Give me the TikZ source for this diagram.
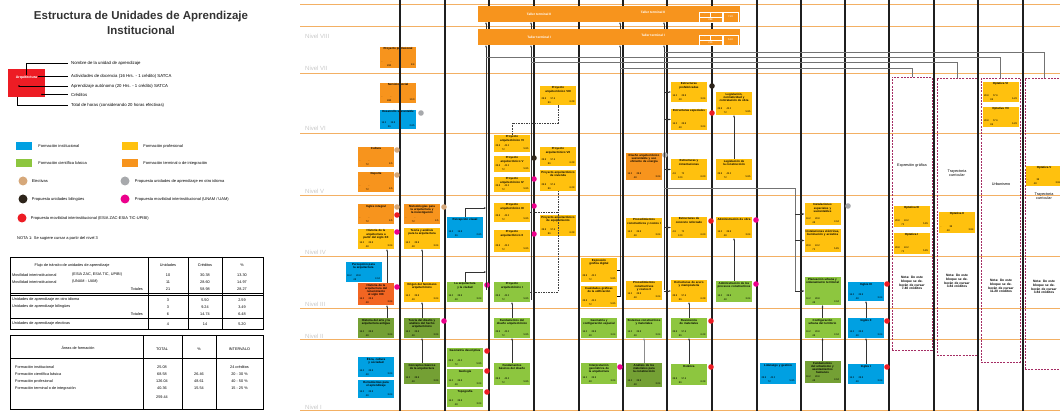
\documentclass[tikz,border=0pt]{standalone}
\usepackage{fontspec}
\setmainfont{Liberation Sans}
\usetikzlibrary{arrows.meta,positioning}

\definecolor{cInst}{RGB}{0,160,226}
\definecolor{cProf}{RGB}{255,193,14}
\definecolor{cCien}{RGB}{141,198,63}
\definecolor{cCienO}{RGB}{116,160,52}
\definecolor{cTerm}{RGB}{247,148,29}
\definecolor{cTermR}{RGB}{242,101,34}
\definecolor{cElec}{RGB}{214,168,122}
\definecolor{cIdio}{RGB}{167,169,172}
\definecolor{cBil}{RGB}{45,36,26}
\definecolor{cUnam}{RGB}{236,0,140}
\definecolor{cEsia}{RGB}{237,28,36}
\definecolor{cNivel}{RGB}{243,176,100}
\definecolor{cNtxt}{RGB}{200,200,200}
\definecolor{cBloque}{RGB}{165,45,100}

\newcommand\unidad[7]{%
  \node[ua,fill=#2,minimum height={(#5-#4)*1pt}] (#1) at (#3,{(#4+#5)/2}) {};
  \node[uatit] (#1t) at ([yshift=-0.9pt]#1.north) {#6};
  \uanums{#1}#7\relax}
\def\uanums#1#2/#3/#4/#5\relax{%
  \node[uanum,anchor=base west] (#1a) at ([shift={(1.5pt,5.4pt)}]#1.south west) {#2};
  \node[uanum,anchor=base west] (#1b) at ([shift={(10.5pt,5.4pt)}]#1.south west) {#3};
  \node[uanum,anchor=base] (#1h) at ([shift={(9.5pt,1.4pt)}]#1.south west) {#4};
  \node[uanum,anchor=base east] (#1c) at ([shift={(-1.5pt,2.4pt)}]#1.south east) {#5};}
\newcommand\marca[3]{\fill[#1] (#2,#3) circle[radius=2.8pt];}

\begin{document}
\begin{tikzpicture}[x=1pt,y=-1pt,>={Stealth[length=2.2pt,width=1.8pt]},
    ua/.style={rectangle,minimum width=36pt,inner sep=0pt},
    uatit/.style={anchor=north,align=center,text width=34pt,inner sep=0pt,
      execute at begin node={\hyphenpenalty=10000},
      font=\fontsize{2.9}{3.2}\selectfont\bfseries},
    uanum/.style={inner sep=0pt,font=\fontsize{2.5}{2.7}\selectfont},
    nivel/.style={draw=cNivel,line width=0.9pt},
    niv/.style={anchor=west,inner sep=0pt,text=cNtxt,font=\fontsize{6}{6.5}\selectfont},
    columna/.style={draw=black!88,line width=1.3pt},
    liga/.style={->,draw=black!80,line width=0.45pt},
    gris/.style={draw=black!55,line width=0.7pt},
    punteada/.style={draw=black!75,line width=0.6pt,dash pattern=on 1.6pt off 1pt},
    taller/.style={rectangle,fill=cTerm,minimum height=16pt,inner sep=0pt,text=white,
      font=\fontsize{3.2}{3.6}\selectfont\bfseries},
    bloque/.style={rectangle,draw=cBloque,dash pattern=on 2pt off 1.2pt,line width=0.7pt},
    btxt/.style={align=center,text width=34pt,inner sep=0pt,font=\fontsize{3.8}{4.4}\selectfont},
    bnota/.style={align=center,text width=32pt,inner sep=0pt,font=\fontsize{3.3}{3.9}\selectfont\bfseries},
    leyenda/.style={anchor=west,inner sep=0pt,font=\fontsize{4}{4.5}\selectfont},
    tabla/.style={inner sep=0pt,font=\fontsize{3.8}{4.2}\selectfont},
    anot/.style={anchor=west,inner sep=0pt,font=\fontsize{4.3}{5}\selectfont}]
\useasboundingbox (0,0) rectangle (1060,411);

\node[align=center,text=black!80,font=\fontsize{11.5}{14.5}\selectfont\bfseries] (titulo) at (141,23) {Estructura de Unidades de Aprendizaje\\Institucional};

\node[fill=cEsia,minimum width=37pt,minimum height=28pt,inner sep=0pt] (arq) at (26.5,83) {};
\node[inner sep=0pt,text=white,font=\fontsize{3.6}{4}\selectfont\bfseries] (arqt) at (26.5,77.5) {Arquitectura};
\node[anot] (an1) at (71,63) {Nombre de la unidad de aprendizaje};
\node[anot] (an2) at (71,76) {Actividades de docencia (16 Hrs. - 1 crédito) SATCA};
\node[anot] (an3) at (71,86) {Aprendizaje autónomo (20 Hrs. - 1 crédito) SATCA};
\node[anot] (an4) at (71,94.5) {Créditos};
\node[anot] (an5) at (71,105) {Total de horas (considerando 20 horas efectivas)};
\coordinate (p1) at (26,75);
\coordinate (p2) at (38,76);
\coordinate (p3) at (19,86);
\coordinate (p4) at (42,94.5);
\coordinate (p5) at (17,97);
\draw[line width=0.5pt] (p1) |- ([xshift=-3pt]an1.west);
\draw[line width=0.5pt] (p2) -- ([xshift=-3pt]an2.west);
\draw[line width=0.5pt] (p3) -- ([xshift=-3pt]an3.west);
\draw[line width=0.5pt] (p4) -- ([xshift=-3pt]an4.west);
\draw[line width=0.5pt] (p5) |- ([xshift=-3pt]an5.west);
\foreach \p in {p3,p4} \fill (\p) circle[radius=0.9pt];

\node[fill=cInst,minimum width=16pt,minimum height=8pt,inner sep=0pt] (lgInst) at (24,146) {};
\node[leyenda,right=6pt of lgInst] (lgInstT) {Formación institucional};
\node[fill=cProf,minimum width=16pt,minimum height=8pt,inner sep=0pt] (lgProf) at (130,146) {};
\node[leyenda,right=5pt of lgProf] (lgProfT) {Formación profesional};
\node[fill=cCien,minimum width=16pt,minimum height=8pt,inner sep=0pt] (lgCien) at (24,163) {};
\node[leyenda,right=6pt of lgCien] (lgCienT) {Formación científica básica};
\node[fill=cTerm,minimum width=16pt,minimum height=8pt,inner sep=0pt] (lgTerm) at (130,163) {};
\node[leyenda,right=5pt of lgTerm] (lgTermT) {Formación terminal o de integración};
\node[circle,fill=cElec,minimum size=9pt,inner sep=0pt] (lgElec) at (23,181) {};
\node[leyenda,right=4pt of lgElec] (lgElecT) {Electivas};
\node[circle,fill=cIdio,minimum size=9pt,inner sep=0pt] (lgIdio) at (125,181) {};
\node[leyenda,right=5pt of lgIdio] (lgIdioT) {Propuesta unidades de aprendizaje en otro idioma};
\node[circle,fill=cBil,minimum size=9pt,inner sep=0pt] (lgBil) at (23,199) {};
\node[leyenda,right=4pt of lgBil] (lgBilT) {Propuesta unidades bilingües};
\node[circle,fill=cUnam,minimum size=9pt,inner sep=0pt] (lgUnam) at (125,199) {};
\node[leyenda,right=5pt of lgUnam] (lgUnamT) {Propuesta movilidad interinstitucional (UNAM / UAM)};
\node[circle,fill=cEsia,minimum size=9pt,inner sep=0pt] (lgEsia) at (22,218) {};
\node[leyenda,right=4pt of lgEsia] (lgEsiaT) {Propuesta movilidad interinstitucional (ESIA ZAC-ESIA TIC-UPIBI)};
\node[leyenda] (nota) at (17,238) {NOTA 1: Se sugiere cursar a partir del nivel 3};

\draw[line width=0.6pt] (10,257) rectangle (263,329);
\draw[line width=0.4pt] (148,257) -- (148,329) (188,257) -- (188,329) (222,257) -- (222,329);
\draw[line width=0.4pt] (10,293) -- (263,293) (10,295.5) -- (263,295.5) (10,318) -- (263,318);
\node[tabla] (t1h) at (72,265) {Flujo de tránsito de unidades de aprendizaje};
\foreach \c/\x/\t in {u/168/Unidades,c/205/Créditos,p/242/{\%}} \node[tabla] (t1\c) at (\x,265) {\t};
\node[tabla,anchor=west] (t1r1) at (12,275) {Movilidad interinstitucional};
\node[tabla,anchor=west] (t1r1b) at (72,275) {(ESIA ZAC, ESIA TIC, UPIBI)};
\node[tabla,anchor=west] (t1r2) at (12,282) {Movilidad interinstitucional};
\node[tabla,anchor=west] (t1r2b) at (72,282) {(UNAM - UAM)};
\node[tabla,anchor=east] (t1r3) at (143,289) {Totales};
\node[tabla,anchor=west] (t1r4) at (12,300) {Unidades de aprendizaje en otro idioma};
\node[tabla,anchor=west] (t1r5) at (12,307) {Unidades de aprendizaje bilingües};
\node[tabla,anchor=east] (t1r6) at (143,314) {Totales};
\node[tabla,anchor=west] (t1r7) at (12,324) {Unidades de aprendizaje electivas};
\foreach \r/\y/\u/\k/\p in {1/275/10/30.38/13.30,2/282/11/28.60/14.97,3/289/21/58.98/28.27,
    4/300/3/5.50/2.59,5/307/3/9.24/3.49,6/314/6/14.74/6.48,7/324/4/14/5.20} {
  \node[tabla] (t1u\r) at (168,\y) {\u};
  \node[tabla] (t1c\r) at (205,\y) {\k};
  \node[tabla] (t1p\r) at (242,\y) {\p};
}

\draw[line width=0.6pt] (10,335) rectangle (263,409);
\draw[line width=0.4pt] (143,335) -- (143,409) (182,335) -- (182,409) (216,335) -- (216,409) (10,358) -- (263,358);
\node[tabla] (t2h) at (78,348) {Áreas de formación};
\node[tabla] (t2t) at (162,349) {TOTAL};
\node[tabla] (t2p) at (199,349) {\%};
\node[tabla] (t2i) at (239.5,349) {INTERVALO};
\foreach \r/\y/\a/\t/\p/\i in {1/367/Formación institucional/25.08//24 créditos,
    2/374/Formación científica básica/68.58/26.46/20 - 30 \%,
    3/381/Formación profesional/126.04/48.61/40 - 50 \%,
    4/388/Formación terminal o de integración/40.36/15.54/15 - 25 \%} {
  \node[tabla,anchor=west] (t2a\r) at (15,\y) {\a};
  \node[tabla] (t2t\r) at (162,\y) {\t};
  \node[tabla] (t2p\r) at (199,\y) {\p};
  \node[tabla] (t2i\r) at (239.5,\y) {\i};
}
\node[tabla] (t2tot) at (162,397) {259.44};

\foreach \y in {4,26,73,133,195,256,308,339,410} \draw[nivel] (300,\y) -- (1060,\y);
\foreach \y/\n in {36/VIII,68/VII,128/VI,191/V,252/IV,304/III,336/II,407/I}
  \node[niv] (n\n) at (305,\y) {Nivel \n};

\unidad{pprof}{cTerm}{398}{47}{68}{Proyecto profesional}{-/-/260/8.4}
\unidad{ssocial}{cTerm}{398}{83}{103}{Servicio social}{-/-/480/10.0}
\unidad{dsust1}{cInst}{398}{110}{129}{Desarrollo sustentable}{16.2/19.8/36/2.65}
\unidad{cultura}{cTerm}{376}{147}{167}{Cultura}{-/-/72/4.5}
\unidad{deporte}{cTerm}{376}{172}{192}{Deporte}{-/-/72/4.5}
\unidad{ingint}{cTerm}{376}{204}{224}{Inglés integral}{-/-/72/4.5}
\unidad{histxx}{cProf}{376}{229}{249}{Historia de la arquitectura a partir del siglo XX}{16.2/28.8/48/3.04}
\unidad{percarq}{cInst}{363.5}{262}{282}{Percepción para la arquitectura}{16.2/28.8/48/3.04}
\unidad{histren}{cTermR}{376}{283}{305}{Historia de la arquitectura del renacimiento al siglo XIX}{16.2/28.8/48/3.04}
\unidad{histant}{cCienO}{376}{318}{338}{Historia del arte y la arquitectura antigua}{16.2/28.8/48/3.04}
\unidad{etica}{cInst}{376}{357}{377}{Ética, cultura y sociedad}{16.2/28.8/48/3.04}
\unidad{herram}{cInst}{376}{380}{398}{Herramientas para el aprendizaje}{16.2/28.8/48/3.04}

\unidad{metod}{cTerm}{422}{204}{224}{Metodologías para la arquitectura y la investigación}{-/-/72/4.5}
\unidad{teoana}{cProf}{422}{228}{249}{Teoría y análisis para la arquitectura}{16.2/28.8/48/3.04}
\unidad{origen}{cProf}{422}{282}{302}{Origen del fenómeno arquitectónico}{16.2/28.8/48/3.04}
\unidad{teodis}{cCienO}{422}{318}{338}{Teoría del diseño y análisis del hecho arquitectónico}{16.2/28.8/48/3.04}
\unidad{concep}{cCienO}{422}{363}{384}{Conceptos básicos de la arquitectura}{16.2/28.8/48/3.04}

\unidad{percvis}{cInst}{465}{217}{238}{Percepción visual}{16.2/19.8/36/2.65}
\unidad{arqciu}{cCien}{465}{282}{302}{La arquitectura y la ciudad}{16.2/28.8/48/3.04}
\unidad{geodes}{cCien}{465}{348}{367}{Geometría descriptiva}{28.8/43.2/72/5.85}
\unidad{geolog}{cCien}{465}{369}{387}{Geología}{16.2/28.8/48/3.04}
\unidad{topog}{cCien}{465}{389}{407}{Topografía}{16.2/28.8/48/3.04}

\unidad{pa6}{cProf}{512}{135}{152}{Proyecto arquitectónico VI}{28.8/43.2/72/5.85}
\unidad{pa5}{cProf}{512}{156}{172}{Proyecto arquitectónico V}{28.8/43.2/72/5.85}
\unidad{pa4}{cProf}{512}{177}{192}{Proyecto arquitectónico IV}{28.8/43.2/72/5.85}
\unidad{pa3}{cProf}{512}{203}{222}{Proyecto arquitectónico III}{28.8/43.2/72/5.85}
\unidad{pa2}{cProf}{512}{230}{252}{Proyecto arquitectónico II}{28.8/43.2/72/5.85}
\unidad{pa1}{cCien}{512}{282}{302}{Proyecto arquitectónico I}{28.8/43.2/72/5.85}
\unidad{fundis}{cCien}{512}{318}{338}{Fundamentos del diseño arquitectónico}{28.8/43.2/72/5.85}
\unidad{funbas}{cCien}{512}{363}{385}{Fundamentos básicos del diseño}{28.8/43.2/72/5.85}

\unidad{pa8}{cProf}{558}{86}{105}{Proyecto arquitectónico VIII}{28.8/57.6/86/6.28}
\unidad{pa7}{cProf}{558}{147}{166}{Proyecto arquitectónico VII}{28.8/57.6/86/6.28}
\unidad{pavi}{cProf}{558}{170}{191}{Proyecto arquitectónico de vivienda}{28.8/57.6/86/6.28}
\unidad{paeq}{cProf}{558}{215}{236}{Proyecto arquitectónico de equipamiento}{28.8/57.6/86/6.28}

\unidad{expgraf}{cProf}{599}{258}{282}{Expresión gráfica digital}{28.8/43.2/72/5.85}
\unidad{cualid}{cProf}{599}{286}{307}{Cualidades gráficas de la edificación}{28.8/43.2/72/5.85}
\unidad{geoconf}{cCien}{599}{318}{338}{Geometría y configuración espacial}{16.2/28.8/48/3.04}
\unidad{interp}{cCien}{599}{363}{384}{Interpretación geométrica de la arquitectura}{16.2/28.8/48/3.04}

\unidad{dsust}{cTerm}{644}{153}{180}{Diseño arquitectónico sustentable y uso eficiente de energía}{16.2/28.8/48/3.04}
\unidad{procos1}{cProf}{644}{218}{238}{Procedimientos constructivos y costos I}{16.2/28.8/48/3.04}
\unidad{procos2}{cProf}{644}{281}{300}{Procedimientos constructivos y costos II}{16.2/28.8/48/3.04}
\unidad{sistcon}{cCien}{644}{318}{338}{Sistemas constructivos y materiales}{16.2/28.8/48/3.04}
\unidad{analmat}{cCienO}{644}{363}{387}{Análisis de los materiales para la construcción}{16.2/28.8/48/3.04}

\unidad{est1}{cProf}{689}{82}{102}{Estructuras prefabricadas}{16.2/28.8/48/3.04}
\unidad{est2}{cProf}{689}{109}{130}{Estructuras especiales}{16.2/28.8/48/3.04}
\unidad{est3}{cProf}{689}{159}{180}{Estructuras y cimentaciones}{4.8/72/120/6.09}
\unidad{est4}{cProf}{689}{217}{238}{Estructuras de concreto reforzado}{4.8/72/120/6.09}
\unidad{est5}{cProf}{689}{280}{302}{Estructuras de acero y mampostería}{28.8/57.6/86/6.28}
\unidad{resmat}{cCien}{689}{318}{338}{Resistencia de materiales}{28.8/57.6/86/6.28}
\unidad{estat}{cCien}{689}{364}{385}{Estática}{28.8/57.6/86/6.28}

\unidad{legnor}{cProf}{734}{92}{115}{Legislación, normatividad y contratación de obra}{28.8/43.2/72/5.85}
\unidad{legcon}{cProf}{734}{159}{180}{Legislación de la construcción}{28.8/43.2/72/5.85}
\unidad{admobra}{cProf}{734}{217}{238}{Administración de obra}{16.2/28.8/48/3.04}
\unidad{admproc}{cCien}{734}{281}{302}{Administración de los procesos constructivos}{16.2/28.8/48/3.04}

\unidad{liderz}{cInst}{778}{363}{384}{Liderazgo y gestión}{28.8/43.2/72/5.85}

\unidad{instesp}{cProf}{822.5}{203}{225}{Instalaciones especiales y sustentables}{16.2/28.8/48/3.04}
\unidad{insteli}{cProf}{822.5}{229}{252}{Instalaciones eléctricas, iluminación y acústica}{28.8/43.2/72/5.85}
\unidad{planurb}{cCien}{822.5}{277}{305}{Planeación urbana y ordenamiento territorial}{16.2/28.8/48/3.04}
\unidad{confurb}{cCien}{822.5}{318}{338}{Configuración urbana del territorio}{16.2/28.8/48/3.04}
\unidad{fundurb}{cCienO}{822.5}{361}{383}{Fundamentos del urbanismo y asentamientos humanos}{16.2/28.8/48/3.04}

\unidad{ing3}{cInst}{866}{282}{301}{Inglés III}{16.2/28.8/48/3.04}
\unidad{ing2}{cInst}{866}{318}{338}{Inglés II}{16.2/28.8/48/3.04}
\unidad{ing1}{cInst}{866}{364}{384}{Inglés I}{16.2/28.8/48/3.04}

\node[bloque,minimum width=40pt,minimum height=273pt] (bloqA) at (912,213.5) {};
\node[btxt] (bloqAt) at (912,165) {Expresión gráfica};
\unidad{opt3}{cProf}{911.5}{206}{227}{Optativa III}{28.8/43.2/72/5.85}
\unidad{opt1}{cProf}{911.5}{233}{254}{Optativa I}{28.8/43.2/72/5.85}
\node[bnota] (bloqAn) at (912,283) {Nota: De este bloque se deberán de cursar 7.40 créditos};
\node[bloque,minimum width=40pt,minimum height=277pt] (bloqB) at (957,216.5) {};
\node[btxt] (bloqBt) at (957,173) {Trayectoria curricular};
\unidad{opt2}{cProf}{957}{212}{233}{Optativa II}{-/38/48/3.84}
\node[bnota] (bloqBn) at (957,281) {Nota: De este bloque se deberán de cursar 3.84 créditos};
\node[bloque,minimum width=39pt,minimum height=284pt] (bloqC) at (1000.5,220) {};
\node[btxt] (bloqCt) at (1001,184) {Urbanismo};
\unidad{opt6}{cProf}{1000.5}{82}{102}{Optativa VI}{28.8/57.6/86/6.28}
\unidad{opt7}{cProf}{1000.5}{107}{127}{Optativa VII}{28.8/57.6/86/6.28}
\node[bnota] (bloqCn) at (1001,286) {Nota: De este bloque se deberán de cursar 11.20 créditos};
\node[bloque,minimum width=38pt,minimum height=291pt] (bloqD) at (1044,223.5) {};
\unidad{opt5}{cProf}{1044}{166}{186}{Optativa V}{-/38/48/3.84}
\node[btxt] (bloqDt) at (1044,196) {Trayectoria curricular};
\node[bnota] (bloqDn) at (1044,287) {Nota: De este bloque se deberán de cursar 3.84 créditos};

\foreach \x in {400,445,489,534,579,623,667,712,757,801,845,889,934,978,1023}
  \draw[columna] (\x,0) -- (\x,411);

\marca{cIdio}{421}{113} \marca{cIdio}{665}{155} \marca{cIdio}{848}{206}
\marca{cElec}{397}{150} \marca{cElec}{397}{175} \marca{cElec}{397}{207} \marca{cElec}{444}{207}
\marca{cEsia}{397}{215} \marca{cEsia}{487}{351} \marca{cEsia}{487}{371} \marca{cEsia}{487}{392}
\marca{cEsia}{712}{113} \marca{cEsia}{711}{221} \marca{cEsia}{711}{321} \marca{cEsia}{711}{367}
\marca{cEsia}{887}{284} \marca{cEsia}{887}{321} \marca{cEsia}{887}{367}
\marca{cUnam}{397}{232} \marca{cUnam}{397}{287} \marca{cUnam}{444}{321} \marca{cUnam}{487}{285}
\marca{cUnam}{534}{179} \marca{cUnam}{534}{206} \marca{cUnam}{534}{234} \marca{cUnam}{620}{367}
\marca{cUnam}{756}{220} \marca{cUnam}{756}{284}
\marca{cBil}{534}{158} \marca{cBil}{712}{86}

\draw[liga] ([xshift=11pt]histant.north) -- ([xshift=11pt]histren.south);
\draw[liga] ([xshift=11pt]histren.north) -- ([xshift=11pt]histxx.south);
\draw[liga] (concep.north) -- (teodis.south);
\draw[liga] (teodis.north) -- (origen.south);
\draw[liga] (origen.north) -- (teoana.south);
\draw[liga] (funbas.north) -- (fundis.south);
\draw[liga] (fundis.north) -- (pa1.south);
\draw[liga,draw=black!45,line width=1pt] (analmat.north) -- (sistcon.south);
\draw[liga] (estat.north) -- (resmat.south);
\draw[liga] (resmat.north) -- (est5.south);
\draw[liga] (legcon.north) -- (legnor.south);
\draw[liga] (admproc.north) -- (admobra.south);
\draw[liga] (fundurb.north) -- (confurb.south);
\draw[liga] (confurb.north) -- (planurb.south);
\draw[liga] (ing1.north) -- (ing2.south);
\draw[liga] (ing2.north) -- (ing3.south);

\coordinate (k6) at (558,123);
\draw[punteada] (pa6.north) |- (k6) -- (pa8.south);
\draw[punteada] (pa1.east) -| (pavi.south);
\draw[punteada] (pa3.east) -- (pa3.east -| pavi.south);

\node[taller,minimum width=122pt] (tt2a) at (539,14) {Taller terminal II};
\node[taller,minimum width=140pt] (tt2b) at (670,14) {};
\node[taller,minimum width=122pt] (tt1a) at (539,37) {Taller terminal I};
\node[taller,minimum width=140pt] (tt1b) at (670,37) {};
\node[taller,fill=none] (tt2bl) at (653,12) {Taller terminal II};
\node[taller,fill=none] (tt1bl) at (653,35) {Taller terminal I};
\foreach \y/\n/\h/\c in {12/2/288/7.20,35/1/216/5.40} {
  \draw[white,line width=0.4pt] (699,\y) rectangle (722,\y+10) (699,\y+5) -- (722,\y+5)
    (710.5,\y) -- (710.5,\y+5) (723,\y) rectangle (738,\y+10);
  \node[uanum,text=white] (tc\n a) at (705,\y+2.5) {-};
  \node[uanum,text=white] (tc\n b) at (716,\y+2.5) {-};
  \node[uanum,text=white] (tc\n h) at (710.5,\y+7.5) {\h};
  \node[uanum,text=white] (tc\n c) at (730.5,\y+5) {\c};
}

\coordinate (k1) at (486,290);
\coordinate (k2) at (531,300);
\coordinate (k3) at (620,297);
\coordinate (k4) at (664,290);
\coordinate (k5) at (795,188);
\draw[liga] (k1) -- (k1 |- tt1a.south);
\draw[liga] (k2) -- (k2 |- tt1a.south);
\draw[liga] (k3) -- (k3 |- tt1b.south);
\draw[liga] (k4) -- (k4 |- tt1b.south);
\draw[liga] (k1 |- tt1a.north) -- (k1 |- tt2a.south);
\draw[liga] (k2 |- tt1a.north) -- (k2 |- tt2a.south);
\draw[liga] (k3 |- tt1b.north) -- (k3 |- tt2b.south);
\draw[liga] (k4 |- tt1b.north) -- (k4 |- tt2b.south);
\draw[liga] (percvis.north) |- (k1 |- 0,208);
\draw[liga] (arqciu.north) |- (k1 |- 0,272);
\draw[line width=0.45pt] (expgraf.east) -- (expgraf.east -| k3);
\draw[line width=0.45pt] (cualid.east) -- (cualid.east -| k3);
\foreach \e in {est1,est2,est3,est4,est5} \draw[liga] (\e.west -| k4) -- (\e.west);
\draw[gris] (k4 |- k5) -- (k5) -- (k5 |- planurb.west);
\foreach \e in {instesp,insteli,planurb} \draw[liga] (\e.west -| k5) -- (\e.west);

\draw[gris] (k4 |- 0,52) -| (bloqD.north);
\draw[gris] (k1 |- 0,57) -| (bloqC.north);
\draw[gris] (k2 |- 0,62) -| (bloqB.north);
\draw[gris] (k3 |- 0,68) -| (bloqA.north);
\end{tikzpicture}
\end{document}
